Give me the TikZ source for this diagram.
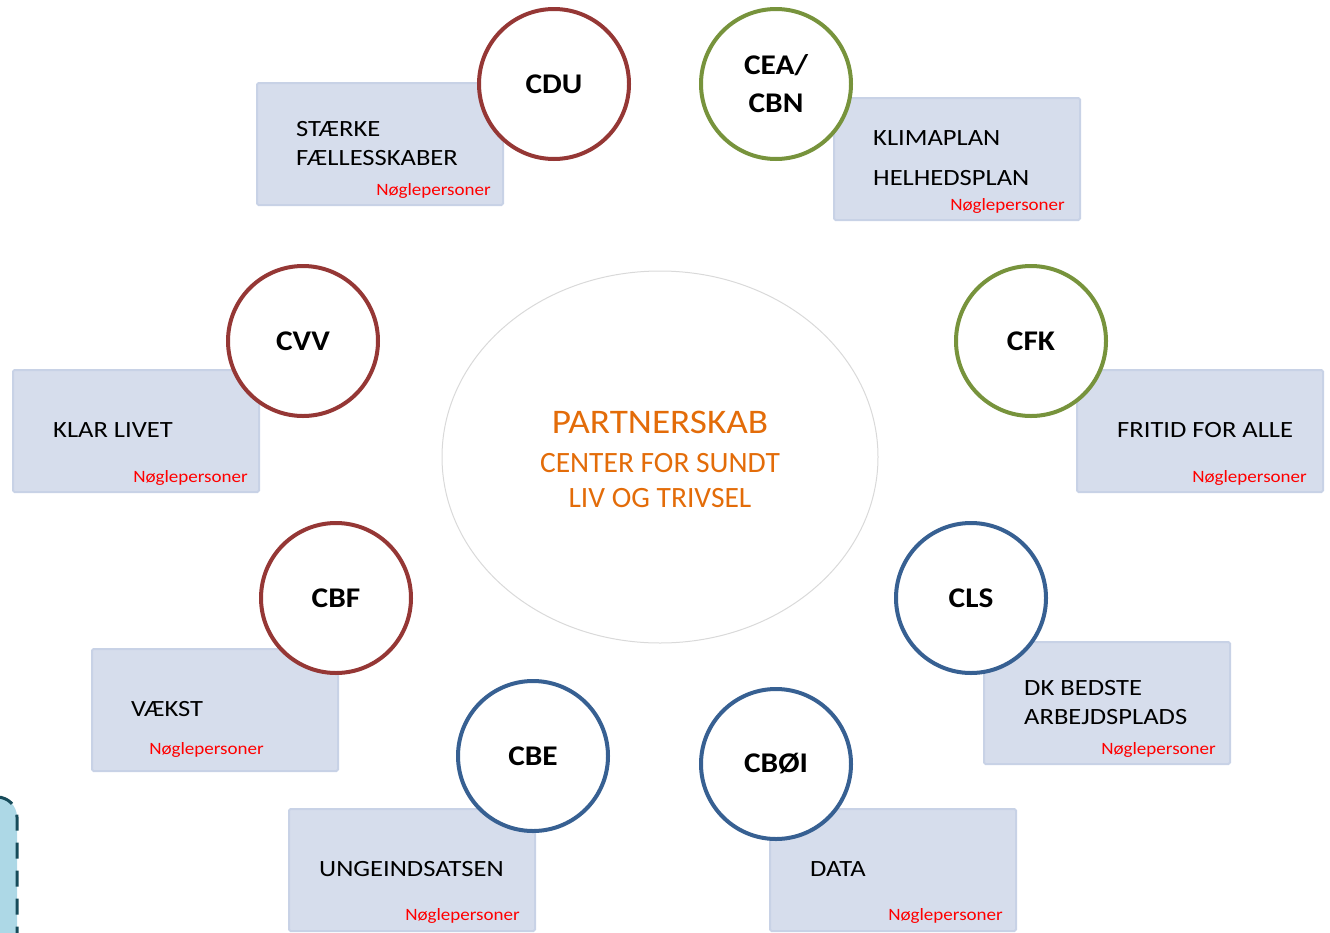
\documentclass[tikz,border=0pt]{standalone}
\usepackage{fontspec}
\setmainfont{Carlito}
\newfontfamily\boxfont[FakeStretch=1.14]{Carlito}
\newfontfamily\keyfont[FakeStretch=1.1]{Carlito}
\newfontfamily\orgfont[FakeStretch=1.1]{Carlito}
\newfontfamily\titlefont[FakeStretch=1.08]{Carlito}
\usetikzlibrary{shapes.geometric}
\definecolor{cred}{RGB}{149,55,53}
\definecolor{cgreen}{RGB}{119,147,60}
\definecolor{cblue}{RGB}{55,96,146}
\definecolor{boxfill}{RGB}{214,221,236}
\definecolor{boxline}{RGB}{200,210,230}
\definecolor{corange}{RGB}{227,108,9}
\definecolor{ellline}{RGB}{217,217,217}
\definecolor{dashfill}{RGB}{173,216,230}
\definecolor{dashline}{RGB}{23,75,90}
\tikzset{
  infobox/.style={draw=boxline, fill=boxfill, line width=2pt, minimum width=246pt, minimum height=122pt, inner sep=0pt, anchor=north west, rounded corners=1.5pt},
  boxtext/.style={anchor=base west, inner sep=0pt, font=\boxfont\fontsize{23.3}{28}\selectfont, text=black},
  keytext/.style={anchor=base east, inner sep=0pt, font=\keyfont\fontsize{17.3}{20}\selectfont, text=red},
  org/.style={circle, draw=#1, fill=white, line width=4pt, minimum size=150pt, inner sep=0pt, font=\orgfont\bfseries\fontsize{28.5}{38}\selectfont, align=center},
  centertext/.style={anchor=base, inner sep=0pt, text=corange},
}
\begin{document}
\begin{tikzpicture}[x=1pt,y=-1pt]
\useasboundingbox (0,0) rectangle (1330,932);
% dashed shape bottom-left
\path[fill=dashfill] (-30,797) [rounded corners=20pt] -- (17,797) -- (17,960) -- (-30,960) -- cycle;
\draw[dashline, line width=3pt, dash pattern=on 16pt off 12pt] (-30,797) [rounded corners=20pt] -- (17,797) -- (17,960);
% center ellipse
\node[ellipse, draw=ellline, line width=1pt, minimum width=436pt, minimum height=372pt, inner sep=0pt] (center) at (660,457) {};
\node[centertext, font=\titlefont\fontsize{34.5}{40}\selectfont] (t1) at (660,433) {PARTNERSKAB};
\node[centertext, font=\fontsize{29.5}{35}\selectfont] (t2) at (660,472.5) {CENTER FOR SUNDT};
\node[centertext, font=\fontsize{29.5}{35}\selectfont] (t3) at (660,507.5) {LIV OG TRIVSEL};
% boxes
\node[infobox] (b1) at (256,82) {};
\node[boxtext] (b1a) at (296,136.5) {STÆRKE};
\node[boxtext] (b1b) at (296,165.5) {FÆLLESSKABER};
\node[keytext] (b1k) at (491,195.5) {Nøglepersoner};

\node[infobox] (b2) at (833,97) {};
\node[boxtext] (b2a) at (873,145.5) {KLIMAPLAN};
\node[boxtext] (b2b) at (873,185.5) {HELHEDSPLAN};
\node[keytext] (b2k) at (1065,210.5) {Nøglepersoner};

\node[infobox] (b3) at (12,369) {};
\node[boxtext] (b3a) at (53,437.5) {KLAR LIVET};
\node[keytext] (b3k) at (248,482.5) {Nøglepersoner};

\node[infobox] (b4) at (1076,369) {};
\node[boxtext] (b4a) at (1117,437.5) {FRITID FOR ALLE};
\node[keytext] (b4k) at (1307,482.5) {Nøglepersoner};

\node[infobox] (b5) at (91,648) {};
\node[boxtext] (b5a) at (131,716.5) {VÆKST};
\node[keytext] (b5k) at (264,754.5) {Nøglepersoner};

\node[infobox] (b6) at (983,641) {};
\node[boxtext] (b6a) at (1024,695.5) {DK BEDSTE};
\node[boxtext] (b6b) at (1024,724.5) {ARBEJDSPLADS};
\node[keytext] (b6k) at (1216,754.5) {Nøglepersoner};

\node[infobox] (b7) at (288,808) {};
\node[boxtext] (b7a) at (319,876.5) {UNGEINDSATSEN};
\node[keytext] (b7k) at (520,920.5) {Nøglepersoner};

\node[infobox] (b8) at (769,808) {};
\node[boxtext] (b8a) at (810,876.5) {DATA};
\node[keytext] (b8k) at (1003,920.5) {Nøglepersoner};
% circles
\node[org=cred] (cdu) at (554,84) {CDU};
\node[org=cgreen] (cea) at (776,84) {CEA/\\CBN};
\node[org=cred] (cvv) at (303,341) {CVV};
\node[org=cgreen] (cfk) at (1031,341) {CFK};
\node[org=cred] (cbf) at (336,598) {CBF};
\node[org=cblue] (cls) at (971,598) {CLS};
\node[org=cblue] (cbe) at (533,756) {CBE};
\node[org=cblue] (cboi) at (776,764) {CBØI};
\end{tikzpicture}
\end{document}
